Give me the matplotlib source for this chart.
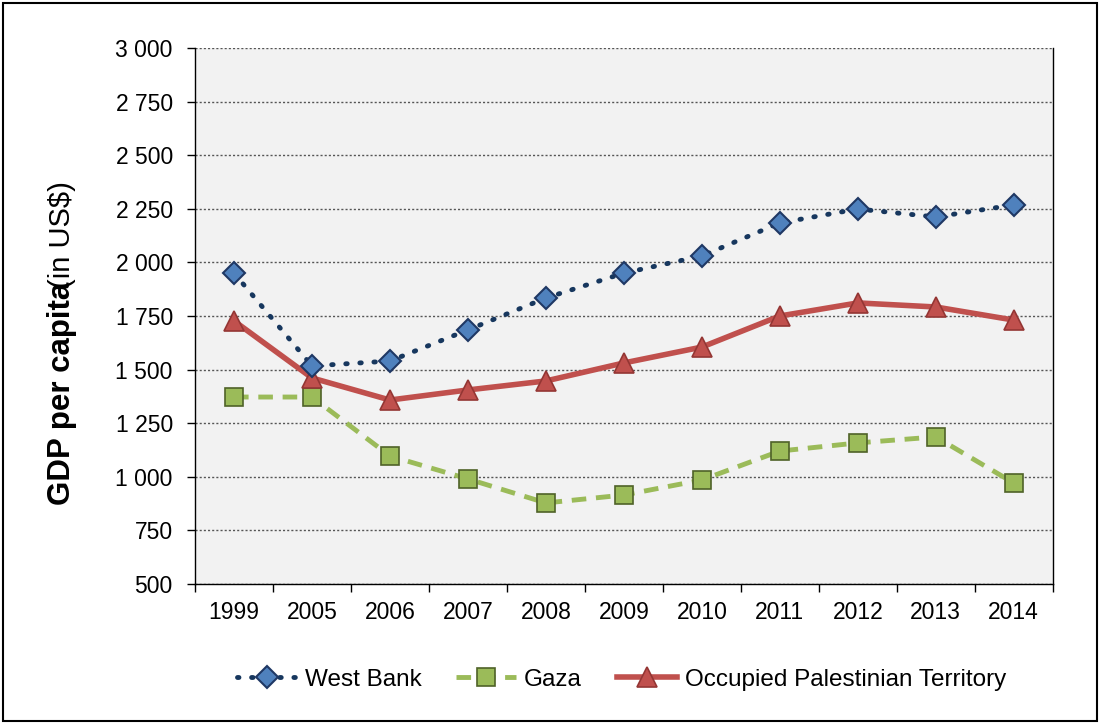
import matplotlib.pyplot as plt
import matplotlib.ticker as mticker
import numpy as np

plt.rcParams['font.family'] = ['Liberation Sans', 'DejaVu Sans']

years = ['1999', '2005', '2006', '2007', '2008', '2009', '2010', '2011', '2012', '2013', '2014']
west_bank = [1950, 1517, 1540, 1685, 1834, 1950, 2030, 2184, 2249, 2212, 2268]
gaza = [1372, 1372, 1097, 990, 878, 915, 985, 1120, 1158, 1186, 971]
opt = [1727, 1461, 1358, 1405, 1447, 1531, 1605, 1750, 1811, 1792, 1731]

fig = plt.figure(figsize=(11, 7.24), dpi=100)
ax = fig.add_axes([0.1773, 0.1934, 0.7797, 0.7403])
ax.set_facecolor('#f2f2f2')

x = np.arange(len(years))
ax.plot(x, west_bank, linestyle=(0, (0.3, 2.6)), color='#17375e', linewidth=3.5,
        dash_capstyle='round', marker='D', markersize=11, markerfacecolor='#4f81bd',
        markeredgecolor='#1f3864', markeredgewidth=1.5, label='West Bank', zorder=4)
ax.plot(x, gaza, linestyle=(0, (3, 2)), color='#9bbb59', linewidth=3.5,
        marker='s', markersize=13, markerfacecolor='#9bbb59', markeredgecolor='#4f6228',
        markeredgewidth=1.2, label='Gaza', zorder=3)
ax.plot(x, opt, linestyle='-', color='#c0504d', linewidth=4,
        marker='^', markersize=14, markerfacecolor='#c0504d', markeredgecolor='#943634',
        markeredgewidth=1.2, label='Occupied Palestinian Territory', zorder=3)

ax.set_xlim(-0.5, len(years) - 0.5)
ax.set_ylim(500, 3000)
ax.set_yticks(np.arange(500, 3001, 250))
ax.yaxis.set_major_formatter(mticker.FuncFormatter(lambda v, p: f'{int(v):,}'.replace(',', ' ')))
ax.set_xticks(x)
ax.set_xticklabels(years)
ax.set_xticks(np.arange(-0.5, len(years), 1), minor=True)
ax.tick_params(axis='x', which='major', length=0, pad=12, labelsize=16.5)
ax.tick_params(axis='x', which='minor', length=6, width=1, direction='out')
ax.tick_params(axis='y', which='major', length=6, width=1, direction='out', pad=10, labelsize=16.5)

ax.grid(axis='y', linestyle=(0, (1.5, 1.5)), color='#555555', linewidth=1)
ax.set_axisbelow(True)
ax.spines['top'].set_visible(False)
for s in ['left', 'bottom', 'right']:
    ax.spines[s].set_color('black')
    ax.spines[s].set_linewidth(1)

fig.text(0.0564, 0.456, 'GDP per capita', rotation=90, fontsize=22.5, fontweight='bold',
         ha='center', va='center')
fig.text(0.0564, 0.676, '(in US$)', rotation=90, fontsize=21, ha='center', va='center')

leg = fig.legend(loc='center', bbox_to_anchor=(0.565, 0.061), ncol=3, frameon=False,
                 fontsize=17.5, handlelength=2.46, columnspacing=1.44, handletextpad=0.33)

border = plt.Rectangle((0.003, 0.004), 0.994, 0.992, transform=fig.transFigure,
                       fill=False, edgecolor='black', linewidth=1.5)
fig.patches.append(border)

fig.savefig('out.png', dpi=100)
